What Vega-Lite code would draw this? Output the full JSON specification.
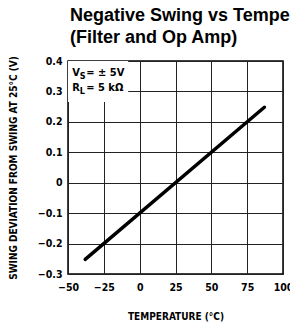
{
  "$schema": "https://vega.github.io/schema/vega-lite/v6.json",
  "autosize": "none",
  "width": 215,
  "height": 213,
  "padding": {"left": 68, "top": 61, "right": 7, "bottom": 54},
  "background": "white",
  "title": {
    "text": ["Negative Swing vs Temperature", "(Filter and Op Amp)"],
    "anchor": "start",
    "frame": "group",
    "font": "Liberation Sans",
    "fontSize": 18,
    "fontWeight": "bold",
    "color": "black",
    "lineHeight": 22,
    "offset": 9,
    "dx": 2
  },
  "config": {
    "view": {"stroke": "black", "strokeWidth": 1.5},
    "axis": {
      "labelFont": "DejaVu Sans Condensed",
      "labelFontWeight": "bold",
      "labelFontSize": 10.5,
      "labelColor": "black",
      "labelOverlap": false,
      "labelBound": false,
      "labelFlush": false,
      "tickCount": 12,
      "titleFont": "DejaVu Sans Condensed",
      "titleFontWeight": "bold",
      "titleFontSize": 10,
      "titleColor": "black",
      "ticks": false,
      "domain": false,
      "gridColor": "#222",
      "gridWidth": 1,
      "gridOpacity": 1
    }
  },
  "datasets": {
    "line": [
      {"temp": -38, "dev": -0.252},
      {"temp": 87, "dev": 0.248}
    ],
    "box": [
      {"x1": -50, "x2": -8, "y1": 0.4, "y2": 0.265}
    ],
    "lab": [
      {"temp": -47, "dev": 0.36, "main": "V", "sub": "S", "rest": "= ± 5V"},
      {"temp": -47, "dev": 0.311, "main": "R", "sub": "L", "rest": "= 5 kΩ"}
    ]
  },
  "layer": [
    {
      "data": {"name": "box"},
      "mark": {"type": "rect", "fill": "white"},
      "encoding": {
        "x": {"field": "x1", "type": "quantitative",
          "scale": {"domain": [-50, 100], "nice": false},
          "axis": {"values": [-50, -25, 0, 25, 50, 75, 100], "labelExpr": "datum.value < 0 ? '−' + abs(datum.value) : datum.value", "labelPadding": 8, "title": "TEMPERATURE (°C)", "titlePadding": 19}},
        "x2": {"field": "x2"},
        "y": {"field": "y1", "type": "quantitative",
          "scale": {"domain": [-0.3, 0.4], "nice": false},
          "axis": {"values": [-0.3, -0.2, -0.1, 0, 0.1, 0.2, 0.3, 0.4], "labelExpr": "datum.value == 0 ? '0' : (datum.value < 0 ? '−' + format(abs(datum.value), '.1f') : format(datum.value, '.1f'))", "labelPadding": 6, "title": "SWING DEVIATION FROM SWING AT 25°C (V)", "titlePadding": 19}},
        "y2": {"field": "y2"}
      }
    },
    {
      "data": {"name": "line"},
      "mark": {"type": "line", "color": "black", "strokeWidth": 3.5, "strokeCap": "round"},
      "encoding": {
        "x": {"field": "temp", "type": "quantitative"},
        "y": {"field": "dev", "type": "quantitative"}
      }
    },
    {
      "data": {"name": "lab"},
      "mark": {"type": "text", "align": "left", "baseline": "middle", "font": "DejaVu Sans Condensed", "fontWeight": "bold", "fontSize": 11, "color": "black"},
      "encoding": {
        "x": {"field": "temp", "type": "quantitative"},
        "y": {"field": "dev", "type": "quantitative"},
        "text": {"field": "main"}
      }
    },
    {
      "data": {"name": "lab"},
      "mark": {"type": "text", "align": "left", "baseline": "middle", "font": "DejaVu Sans Condensed", "fontWeight": "bold", "fontSize": 9, "color": "black", "dx": 7.5, "dy": 3},
      "encoding": {
        "x": {"field": "temp", "type": "quantitative"},
        "y": {"field": "dev", "type": "quantitative"},
        "text": {"field": "sub"}
      }
    },
    {
      "data": {"name": "lab"},
      "mark": {"type": "text", "align": "left", "baseline": "middle", "font": "DejaVu Sans Condensed", "fontWeight": "bold", "fontSize": 11, "color": "black", "dx": 14},
      "encoding": {
        "x": {"field": "temp", "type": "quantitative"},
        "y": {"field": "dev", "type": "quantitative"},
        "text": {"field": "rest"}
      }
    }
  ]
}
